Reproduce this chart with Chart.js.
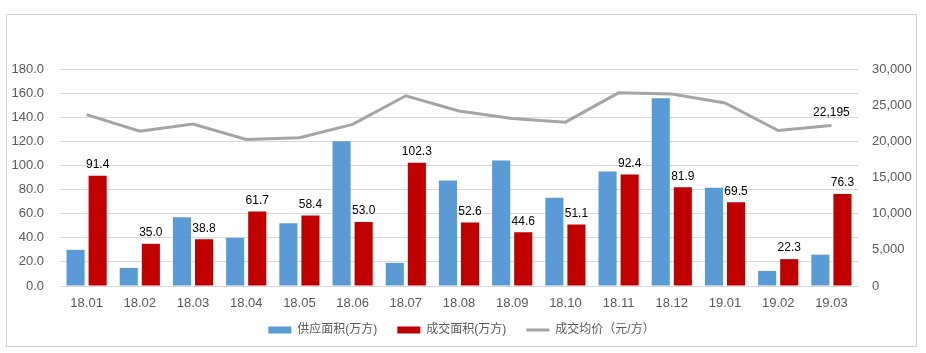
<!DOCTYPE html>
<html lang="zh">
<head>
<meta charset="UTF-8">
<title>供应面积 / 成交面积 / 成交均价</title>
<script src="https://cdn.jsdelivr.net/npm/chart.js"></script>
<style>
  body { margin: 0; background: #fff; }
  .box {
    position: absolute; left: 6px; top: 14px;
    width: 909px; height: 331px;
    border: 1px solid #d0d0d0;
  }
  canvas { display: block; }
</style>
</head>
<body>
<div class="box"><canvas id="c" width="909" height="331"></canvas></div>
<script>
// data
const months = ['18.01','18.02','18.03','18.04','18.05','18.06','18.07','18.08','18.09','18.10','18.11','18.12','19.01','19.02','19.03'];
const supply = [30, 15, 57, 40, 52, 120, 19.2, 87.5, 104, 73.3, 95, 155.8, 81.5, 12.5, 26];
const deals = [91.4, 35.0, 38.8, 61.7, 58.4, 53.0, 102.3, 52.6, 44.6, 51.1, 92.4, 81.9, 69.5, 22.3, 76.3];
const avgPrice = [23700, 21400, 22400, 20250, 20500, 22350, 26300, 24200, 23150, 22650, 26700, 26550, 25300, 21500, 22195];

const font = "'Liberation Sans', 'Noto Sans CJK SC', sans-serif";
const tickColor = '#595959';

// simple value labels: red bars + last price point
const valueLabels = {
  id: 'valueLabels',
  afterDatasetsDraw(chart) {
    const ctx = chart.ctx;
    ctx.save();
    ctx.font = '12px ' + font;
    ctx.fillStyle = '#000';
    ctx.textAlign = 'center';
    ctx.textBaseline = 'bottom';
    chart.getDatasetMeta(1).data.forEach((bar, i) => {
      ctx.fillText(deals[i].toFixed(1), bar.x, bar.y - 5);
    });
    const pts = chart.getDatasetMeta(2).data;
    const last = pts[pts.length - 1];
    ctx.fillText(avgPrice[avgPrice.length - 1].toLocaleString('en-US'), last.x, last.y - 7);
    ctx.restore();
  }
};

new Chart(document.getElementById('c'), {
  data: {
    labels: months,
    datasets: [
      {
        type: 'bar', label: '供应面积(万方)', data: supply,
        backgroundColor: '#5b9bd5', yAxisID: 'y', order: 2,
        pointStyle: 'rect', barPercentage: 0.82, categoryPercentage: 0.83
      },
      {
        type: 'bar', label: '成交面积(万方)', data: deals,
        backgroundColor: '#c00000', yAxisID: 'y', order: 2,
        pointStyle: 'rect', barPercentage: 0.82, categoryPercentage: 0.83
      },
      {
        type: 'line', label: '成交均价（元/方）', data: avgPrice,
        borderColor: '#a5a5a5', backgroundColor: '#a5a5a5', borderWidth: 3,
        pointRadius: 0, pointStyle: 'line', tension: 0, yAxisID: 'y1', order: 1
      }
    ]
  },
  options: {
    responsive: false,
    animation: false,
    layout: { padding: { top: 54, left: 0, right: 0, bottom: 0 } },
    plugins: {
      legend: {
        position: 'bottom',
        labels: {
          usePointStyle: true, pointStyleWidth: 23, boxHeight: 7,
          color: tickColor, font: { family: font, size: 12 }, padding: 20,
          sort: (a, b) => a.datasetIndex - b.datasetIndex
        }
      },
      tooltip: { enabled: false }
    },
    scales: {
      x: {
        // keep the axis short but don't clip its labels
        afterFit: s => { s.height = 18; s._computeLabelArea = () => undefined; },
        grid: { display: false },
        border: { color: '#d9d9d9' },
        ticks: { color: tickColor, font: { family: font, size: 13 }, padding: 2 }
      },
      y: {
        position: 'left', min: 0, max: 180,
        afterFit: s => { s.width = 53; },
        grid: { color: '#d9d9d9', drawTicks: false },
        border: { display: false },
        ticks: { stepSize: 20, padding: 16, color: tickColor, font: { family: font, size: 13 },
                 callback: v => v.toFixed(1) }
      },
      y1: {
        position: 'right', min: 0, max: 30000,
        afterFit: s => { s.width = 58; },
        grid: { display: false, drawTicks: false },
        border: { display: false },
        ticks: { stepSize: 5000, padding: 14, color: tickColor, font: { family: font, size: 13 },
                 callback: v => v.toLocaleString('en-US') }
      }
    }
  },
  plugins: [valueLabels]
});
</script>
</body>
</html>
